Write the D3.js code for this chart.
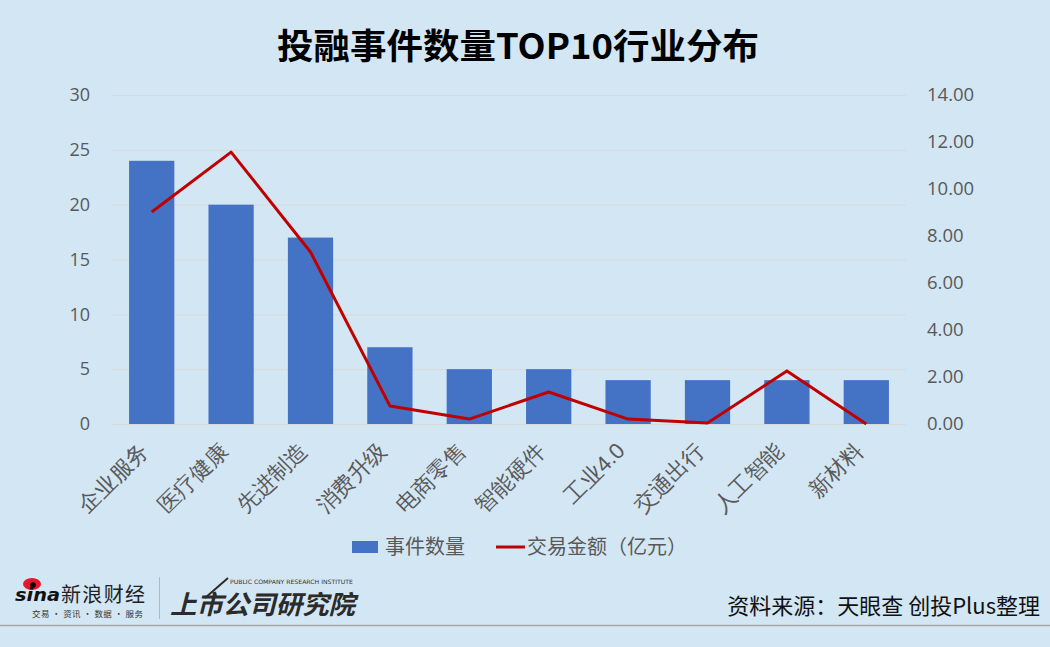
<!DOCTYPE html>
<html>
<head>
<meta charset="utf-8">
<script src="https://cdn.jsdelivr.net/npm/d3@7"></script>
<style>
  html, body { margin: 0; padding: 0; background: #d3e6f4; }
  svg { display: block; font-family: "Noto Sans CJK SC", "Microsoft YaHei", sans-serif; }
</style>
</head>
<body>
<div id="chart"></div>
<script>
// Chart data
var categories = ['企业服务', '医疗健康', '先进制造', '消费升级', '电商零售', '智能硬件', '工业4.0', '交通出行', '人工智能', '新材料'];
var eventCounts = [24, 20, 17, 7, 5, 5, 4, 4, 4, 4];
var dealAmounts = [9.02, 11.57, 7.32, 0.77, 0.21, 1.36, 0.21, 0.04, 2.26, 0.00];
var leftTicks = [0, 5, 10, 15, 20, 25, 30];
var rightTicks = [0, 2, 4, 6, 8, 10, 12, 14];

var W = 1050, H = 647;
var margin = { top: 95, right: 144, bottom: 223, left: 112 };
var plotW = W - margin.left - margin.right,
	plotH = H - margin.top - margin.bottom;

var svg = d3.select('#chart').append('svg')
	.attr('width', W)
	.attr('height', H);

svg.append('rect')
	.attr('width', W).attr('height', H)
	.attr('fill', '#d3e6f4');

// Title:
svg.append('text')
	.attr('x', 277).attr('y', 59)
	.attr('font-size', 35)
	.attr('font-weight', 'bold')
	.attr('fill', '#000')
	.attr('textLength', 482)
	.attr('lengthAdjust', 'spacingAndGlyphs')
	.text('投融事件数量TOP10行业分布');

var g = svg.append('g')
	.attr('transform', 'translate(' + margin.left + ',' + margin.top + ')');

var x = d3.scaleBand().domain(categories).range([0, plotW]).paddingInner(0.43).paddingOuter(0.215);
var yL = d3.scaleLinear().domain([0, 30]).range([plotH, 0]);
var yR = d3.scaleLinear().domain([0, 14]).range([plotH, 0]);

// Gridlines:
g.append('g').selectAll('line')
	.data(leftTicks)
	.join('line')
		.attr('x1', 0).attr('x2', plotW)
		.attr('y1', function(d) { return yL(d) + 0.5; })
		.attr('y2', function(d) { return yL(d) + 0.5; })
		.attr('stroke', '#d9d9d9')
		.attr('stroke-width', 1);

// Left axis:
var axisL = g.append('g')
	.call(d3.axisLeft(yL).tickValues(leftTicks).tickSize(0).tickPadding(22));
axisL.select('.domain').remove();
axisL.selectAll('text')
	.attr('font-size', 18)
	.attr('fill', '#595959')
	.attr('font-family', '"Open Sans", "Noto Sans", sans-serif');

// Right axis:
var axisR = g.append('g')
	.attr('transform', 'translate(' + plotW + ',0)')
	.call(d3.axisRight(yR).tickValues(rightTicks).tickSize(0).tickPadding(21).tickFormat(d3.format('.2f')));
axisR.select('.domain').remove();
axisR.selectAll('text')
	.attr('font-size', 18.5)
	.attr('fill', '#595959')
	.attr('font-family', '"Open Sans", "Noto Sans", sans-serif');

// Bars:
g.append('g').selectAll('rect')
	.data(eventCounts)
	.join('rect')
		.attr('x', function(d, i) { return x(categories[i]); })
		.attr('y', function(d) { return yL(d); })
		.attr('width', x.bandwidth())
		.attr('height', function(d) { return plotH - yL(d); })
		.attr('fill', '#4472c4');

// Line:
var line = d3.line()
	.x(function(d, i) { return x(categories[i]) + x.bandwidth() / 2; })
	.y(function(d) { return yR(d); });

g.append('path')
	.datum(dealAmounts)
	.attr('d', line)
	.attr('fill', 'none')
	.attr('stroke', '#c00000')
	.attr('stroke-width', 3)
	.attr('stroke-linejoin', 'round');

// X labels, rotated:
var axisX = g.append('g')
	.attr('transform', 'translate(0,' + plotH + ')')
	.call(d3.axisBottom(x).tickSize(0).tickPadding(0));
axisX.select('.domain').remove();
axisX.selectAll('text')
	.attr('font-size', 22)
	.attr('fill', '#595959')
	.attr('text-anchor', 'end')
	.attr('dy', '0')
	.attr('transform', 'translate(-2,28) rotate(-45)');

// Legend:
var legend = svg.append('g').attr('transform', 'translate(0,547)');
legend.append('rect')
	.attr('x', 352).attr('y', -6).attr('width', 26).attr('height', 12)
	.attr('fill', '#4472c4');
legend.append('text')
	.attr('x', 385).attr('y', 7)
	.attr('font-size', 20).attr('fill', '#595959')
	.text('事件数量');
legend.append('line')
	.attr('x1', 496).attr('x2', 525).attr('y1', 0).attr('y2', 0)
	.attr('stroke', '#c00000').attr('stroke-width', 3);
legend.append('text')
	.attr('x', 527).attr('y', 7)
	.attr('font-size', 20).attr('fill', '#595959')
	.text('交易金额（亿元）');

// Footer:
svg.append('line')
	.attr('x1', 0).attr('x2', W).attr('y1', 625.5).attr('y2', 625.5)
	.attr('stroke', '#a6a6a6').attr('stroke-width', 1.5);

var sina = svg.append('g');
sina.append('ellipse')
	.attr('cx', 32).attr('cy', 584).attr('rx', 9).attr('ry', 6)
	.attr('fill', '#e6162d');
sina.append('circle')
	.attr('cx', 33).attr('cy', 585).attr('r', 2.8)
	.attr('fill', '#000');
sina.append('text')
	.attr('x', 15).attr('y', 601)
	.attr('font-size', 18).attr('font-weight', 'bold').attr('font-style', 'italic')
	.attr('font-family', '"DejaVu Sans", sans-serif')
	.attr('fill', '#111')
	.attr('textLength', 45)
	.attr('lengthAdjust', 'spacingAndGlyphs')
	.text('sina');
sina.append('text')
	.attr('x', 61).attr('y', 602)
	.attr('font-size', 20).attr('fill', '#222')
	.attr('textLength', 84)
	.text('新浪财经');
sina.append('text')
	.attr('x', 32).attr('y', 617)
	.attr('font-size', 8.5).attr('fill', '#333')
	.attr('textLength', 111)
	.text('交易 · 资讯 · 数据 · 服务');

svg.append('line')
	.attr('x1', 159.5).attr('x2', 159.5).attr('y1', 577).attr('y2', 619)
	.attr('stroke', '#b0b8c0').attr('stroke-width', 1);

var inst = svg.append('g');
inst.append('text')
	.attr('x', 230).attr('y', 584)
	.attr('font-size', 6).attr('fill', '#333')
	.attr('font-family', '"DejaVu Sans", sans-serif')
	.attr('textLength', 123)
	.attr('lengthAdjust', 'spacingAndGlyphs')
	.text('PUBLIC COMPANY RESEARCH INSTITUTE');
inst.append('text')
	.attr('x', 170).attr('y', 614)
	.attr('font-size', 26).attr('font-weight', 'bold').attr('font-style', 'italic')
	.attr('fill', '#2b2b2b')
	.attr('textLength', 185)
	.attr('lengthAdjust', 'spacingAndGlyphs')
	.text('上市公司研究院');
inst.append('line')
	.attr('x1', 205).attr('x2', 228).attr('y1', 598).attr('y2', 578)
	.attr('stroke', '#2b2b2b').attr('stroke-width', 2);

svg.append('text')
	.attr('x', 1040).attr('y', 614)
	.attr('text-anchor', 'end')
	.attr('font-size', 22).attr('fill', '#111')
	.text('资料来源：天眼查 创投Plus整理');
</script>
</body>
</html>
